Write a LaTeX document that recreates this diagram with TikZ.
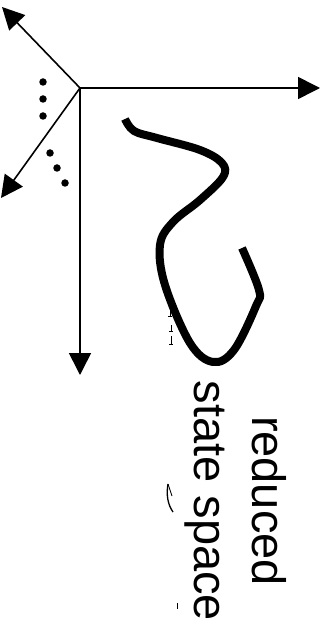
\documentclass[tikz,border=0pt]{standalone}
\usepackage{fontspec}
\setmainfont{Liberation Sans}
\usetikzlibrary{arrows.meta}
\tikzset{
  axis/.style={line width=1.6pt,-{Triangle[length=22pt,width=22pt]}},
  traj/.style={line width=8pt,line cap=butt,line join=round},
  bigdot/.style={circle,fill=black,inner sep=0pt,minimum size=7.5pt},
  frag/.style={line width=0.9pt},
  lbl/.style={rotate=-90,align=center,font=\fontsize{47}{58}\selectfont,inner sep=0pt}
}
\begin{document}
\begin{tikzpicture}[x=1pt,y=-1pt]
\useasboundingbox (0,0) rectangle (327,628);
\coordinate (o) at (80,88);
\coordinate (xe) at (320,88);
\coordinate (ye) at (80,375);
\coordinate (ul) at (2,7);
\coordinate (dl) at (1,198);
\draw[axis] (o) -- (xe);
\draw[axis] (o) -- (ye);
\draw[axis] (o) -- (ul);
\draw[axis] (o) -- (dl);
\node[bigdot] (d1) at (43,82) {};
\node[bigdot] (d2) at (43,99) {};
\node[bigdot] (d3) at (43,116) {};
\node[bigdot] (d4) at (50,153) {};
\node[bigdot] (d5) at (57,168) {};
\node[bigdot] (d6) at (65,183) {};
\draw[traj] plot[smooth,tension=0.6] coordinates {(125,119) (134,131) (157,138) (200,150) (222,163) (223,177) (200,200) (173,222) (160,245) (165,285) (190,343) (213,362) (234,350) (256,306) (259,290) (242,248)};
\node[lbl] (txt) at (236,501) {reduced\\state space};
\draw[frag] (170,311) -- (170,316) (168,316) -- (172,316);
\draw[frag] (171,325) -- (171,331) (169,331) -- (173,331);
\draw[frag] (171,336) -- (171,344) (169,344) -- (173,344);
\draw[line width=1.3pt] (168,484) .. controls (166,495) and (168,505) .. (173,512);
\draw[frag] (168,484) -- (172,496);
\draw[frag] (177,603) -- (177,609);
\end{tikzpicture}
\end{document}
